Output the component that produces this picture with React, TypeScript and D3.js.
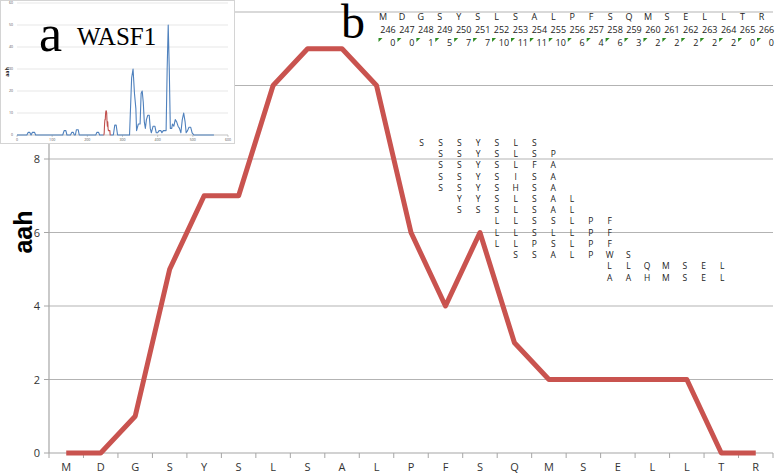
import * as d3 from 'd3';

const residues = ['M', 'D', 'G', 'S', 'Y', 'S', 'L', 'S', 'A', 'L', 'P', 'F', 'S', 'Q', 'M', 'S', 'E', 'L', 'L', 'T', 'R'];
const resNumbers = [246, 247, 248, 249, 250, 251, 252, 253, 254, 255, 256, 257, 258, 259, 260, 261, 262, 263, 264, 265, 266];
const aah = [0, 0, 1, 5, 7, 7, 10, 11, 11, 10, 6, 4, 6, 3, 2, 2, 2, 2, 2, 0, 0];
const yTicks = [0, 2, 4, 6, 8, 10, 12];

// aligned peptide hits, each 7 residues with a start column
const peptides = ['SSSYSLS', 'SSYSLSP', 'SSYSLFA', 'SSYSISA', 'SSYSHSA', 'YYSLSAL', 'SSSLSAL',
    'LLSSLPF', 'LLSLLPF', 'LLPSLPF', 'SSALPWS', 'LLQMSEL', 'AAHMSEL'];
const pepStart = [0, 1, 1, 1, 1, 2, 2, 4, 4, 4, 5, 10, 10];

// inset (whole protein): [position, aah]
const insetBlueA: [number, number][] = [[0, 0], [28, 0], [32, 1.2], [36, 1.2], [40, 0], [44, 1.2], [50, 1.2], [53, 0],
    [130, 0], [134, 2], [139, 2], [142, 0], [152, 0], [156, 1.2], [160, 1.2], [163, 0], [166, 0], [169, 2.4],
    [174, 2.4], [177, 0], [224, 0], [227, 1.2], [232, 1.2], [235, 0], [246, 0]];
const insetBlueB: [number, number][] = [[266, 0], [274, 0], [278, 4.5], [282, 4.5], [286, 0], [320, 0], [326, 26],
    [330, 30], [334, 19], [338, 12], [340, 2], [345, 5], [350, 5], [353, 19], [356, 20], [359, 15], [362, 6],
    [365, 3], [368, 7], [372, 9], [376, 9], [379, 3], [382, 1], [387, 4], [392, 4], [396, 1], [400, 1], [404, 2],
    [409, 2], [412, 1], [416, 2], [420, 2], [424, 2], [427, 30], [430, 50], [433, 30], [436, 3], [440, 3],
    [442, 5], [446, 4], [450, 7], [454, 6], [458, 4], [462, 3], [466, 1], [470, 7], [474, 10], [478, 6],
    [481, 1], [485, 2], [489, 3.5], [494, 3.5], [498, 1], [503, 0], [560, 0]];
const insetYTicks = [0, 10, 20, 30, 40, 50, 60];
const insetXTicks = [0, 100, 200, 300, 400, 500, 600];

const W = 777;
const H = 474;
const font = '"Open Sans", "Liberation Sans", sans-serif';
const serif = '"Liberation Serif", "DejaVu Serif", serif';

const App = () => {
    const x = d3.scaleBand<number>().domain(d3.range(residues.length)).range([49, 773]);
    const y = d3.scaleLinear().domain([0, 12]).range([453, 12]);
    const line = d3.line<number>()
        .x((d, i) => (x(i) as number) + x.bandwidth() / 2)
        .y(d => y(d));

    // header table (panel b): left edge of each cell
    const hx = d3.scaleLinear().domain([0, 20]).range([378.5, 757]);

    // alignment block
    const ax = d3.scaleLinear().domain([0, 16]).range([421.7, 722.3]);
    const ay = d3.scaleLinear().domain([0, 12]).range([142.7, 277.3]);

    // inset
    const ix = d3.scaleLinear().domain([0, 600]).range([17, 228]);
    const iy = d3.scaleLinear().domain([0, 60]).range([135, 3]);
    const iline = d3.line<[number, number]>().x(d => ix(d[0])).y(d => iy(d[1]));
    const redSeg: [number, number][] = resNumbers.map((p, i) => [p, aah[i]]);

    const bounds = [...x.domain().map(i => x(i) as number), 773];

    return (
        <svg width={W} height={H} style={{ position: 'absolute', left: 0, top: 0, background: '#fff' }}>
            <rect width={W} height={H} fill="#fff" />
            {/* gridlines */}
            {yTicks.map(t => (
                <line key={t} x1={49} x2={773} y1={y(t)} y2={y(t)} stroke={t === 0 ? '#a6a6a6' : '#b3b3b3'} strokeWidth={1.2} />
            ))}
            <line x1={49} x2={49} y1={12} y2={453} stroke="#a6a6a6" strokeWidth={1.2} />
            {yTicks.map(t => (
                <g key={'yt' + t}>
                    <line x1={44} x2={49} y1={y(t)} y2={y(t)} stroke="#a6a6a6" />
                    <text x={40} y={y(t) + 4} textAnchor="end" fontSize={11} fontFamily={font} fill="#333">{t}</text>
                </g>
            ))}
            {bounds.map((b, i) => (
                <line key={'xt' + i} x1={b} x2={b} y1={453} y2={458} stroke="#a6a6a6" />
            ))}
            {residues.map((r, i) => (
                <text key={'xl' + i} x={(x(i) as number) + x.bandwidth() / 2} y={471} textAnchor="middle"
                    fontSize={11} fontFamily={font} fill="#333">{r}</text>
            ))}
            <text transform="translate(32,232) rotate(-90)" textAnchor="middle" fontSize={25} fontWeight="bold"
                fontFamily='"Liberation Sans", Arial, sans-serif' fill="#000">aah</text>

            <path d={line(aah) || ''} fill="none" stroke="#c9534f" strokeWidth={5} strokeLinejoin="round" />

            {/* alignment letters */}
            {peptides.map((p, r) => p.split('').map((ch, k) => (
                <text key={'p' + r + '-' + k} x={ax(pepStart[r] + k)} y={ay(r) + 3.2} textAnchor="middle"
                    fontSize={8.5} fontFamily={font} fill="#222">{ch}</text>
            )))}

            {/* panel b header */}
            <text x={341} y={38} fontSize={48} fontFamily={serif} fill="#000">b</text>
            {residues.map((r, i) => (
                <g key={'h' + i}>
                    <text x={hx(i) + 4.5} y={20} textAnchor="middle" fontSize={9} fontFamily={font} fill="#222">{r}</text>
                    <text x={hx(i) + 9.5} y={33} textAnchor="middle" fontSize={9} fontFamily={font} fill="#222">{resNumbers[i]}</text>
                    <text x={hx(i) + 17} y={46} textAnchor="end" fontSize={9} fontFamily={font} fill="#222">{aah[i]}</text>
                    <polygon points={`${hx(i)},38 ${hx(i) + 4},38 ${hx(i)},42`} fill="#2e8b22" />
                </g>
            ))}

            {/* inset a */}
            <rect x={0.5} y={0.5} width={234} height={143} fill="#fff" stroke="#d4d4d4" />
            {insetYTicks.map(t => (
                <g key={'iy' + t}>
                    <line x1={17} x2={228} y1={iy(t)} y2={iy(t)} stroke={t === 0 ? '#999' : '#d6d6d6'} strokeWidth={0.6} />
                    <text x={13} y={iy(t) + 1.3} textAnchor="end" fontSize={3.6} fontFamily={font} fill="#555">{t}</text>
                </g>
            ))}
            {insetXTicks.map(t => (
                <g key={'ix' + t}>
                    <line x1={ix(t)} x2={ix(t)} y1={135} y2={137} stroke="#999" strokeWidth={0.5} />
                    <text x={ix(t)} y={140.5} textAnchor="middle" fontSize={3.6} fontFamily={font} fill="#555">{t}</text>
                </g>
            ))}
            <text transform="translate(9,72) rotate(-90)" textAnchor="middle" fontSize={5} fontWeight="bold"
                fontFamily={font} fill="#222">aah</text>
            <path d={iline(insetBlueA) || ''} fill="none" stroke="#4f81bd" strokeWidth={1.1} strokeLinejoin="round" />
            <path d={iline(insetBlueB) || ''} fill="none" stroke="#4f81bd" strokeWidth={1.1} strokeLinejoin="round" />
            <path d={iline(redSeg) || ''} fill="none" stroke="#c0504d" strokeWidth={1.1} strokeLinejoin="round" />
            <text x={39} y={51} fontSize={52} fontFamily={serif} fill="#000">a</text>
            <text x={77} y={45} fontSize={25} fontFamily={serif} fill="#000">WASF1</text>
        </svg>
    );
};

export default App;
